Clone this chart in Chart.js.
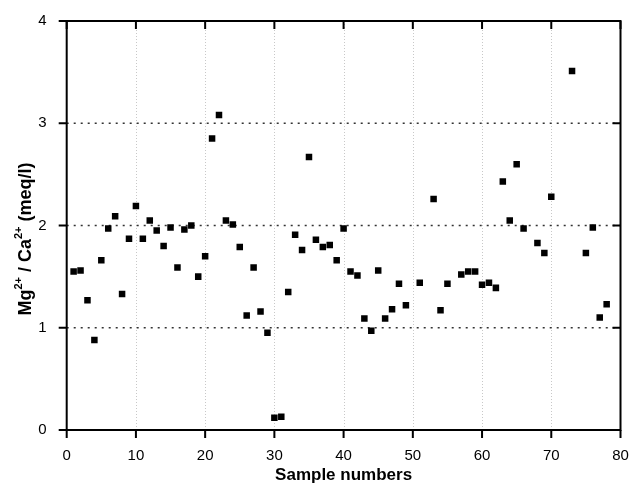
<!DOCTYPE html>
<html>
<head>
<meta charset="utf-8">
<title>Mg/Ca ratio by sample</title>
<script src="https://cdn.jsdelivr.net/npm/chart.js@4/dist/chart.umd.min.js"></script>
<style>
    html, body { margin: 0; padding: 0; background: #fff; }
    canvas { display: block; }
</style>
</head>
<body>
<canvas id="ratioChart" width="640" height="486"></canvas>
<script>
// Sample numbers (x) and Mg2+/Ca2+ ratios (meq/l)
const sampleNumbers = [
    1, 2, 3, 4, 5, 6, 7, 8, 9, 10,
    11, 12, 13, 14, 15, 16, 17, 18, 19, 20,
    21, 22, 23, 24, 25, 26, 27, 28, 29, 30,
    31, 32, 33, 34, 35, 36, 37, 38, 39, 40,
    41, 42, 43, 44, 45, 46, 47, 48, 49, 51,
    53, 54, 55, 57, 58, 59, 60, 61, 62, 63,
    64, 65, 66, 68, 69, 70, 73, 75, 76, 77, 78
];
const mgCaRatios = [
    1.55, 1.56, 1.27, 0.88, 1.66, 1.97, 2.09, 1.33, 1.87, 2.19,
    1.87, 2.05, 1.95, 1.80, 1.98, 1.59, 1.96, 2.00, 1.50, 1.70,
    2.85, 3.08, 2.05, 2.01, 1.79, 1.12, 1.59, 1.16, 0.95, 0.12,
    0.13, 1.35, 1.91, 1.76, 2.67, 1.86, 1.79, 1.81, 1.66, 1.97,
    1.55, 1.51, 1.09, 0.97, 1.56, 1.09, 1.18, 1.43, 1.22, 1.44,
    2.26, 1.17, 1.43, 1.52, 1.55, 1.55, 1.42, 1.44, 1.39, 2.43,
    2.05, 2.60, 1.97, 1.83, 1.73, 2.28, 3.51, 1.73, 1.98, 1.10, 1.23
];
const xTicks = [0, 10, 20, 30, 40, 50, 60, 70, 80];
const yTicks = [0, 1, 2, 3, 4];

const FONT = '"Liberation Sans", Arial, sans-serif';

/**
 * Frame, tick marks and dotted grid lines (drawn like the original plot)
 */
const framePlugin = {
    id: 'frame',
    beforeDatasetsDraw(chart) {
        const { ctx, chartArea: a, scales: { x, y } } = chart;
        ctx.save();
        // light vertical grid
        ctx.strokeStyle = '#c8c8c8';
        ctx.lineWidth = 1;
        ctx.setLineDash([1, 2]);
        xTicks.slice(1, -1).forEach(v => {
            const px = Math.round(x.getPixelForValue(v)) + 0.5;
            ctx.beginPath();
            ctx.moveTo(px, a.top);
            ctx.lineTo(px, a.bottom);
            ctx.stroke();
        });
        // dark horizontal grid
        ctx.strokeStyle = '#333';
        ctx.lineWidth = 1.5;
        ctx.setLineDash([2, 5]);
        yTicks.slice(1, -1).forEach(v => {
            const py = y.getPixelForValue(v);
            ctx.beginPath();
            ctx.moveTo(a.left, py);
            ctx.lineTo(a.right, py);
            ctx.stroke();
        });
        ctx.restore();
    },
    afterDatasetsDraw(chart) {
        const { ctx, chartArea: a, scales: { x, y } } = chart;
        const len = 8;
        ctx.save();
        ctx.strokeStyle = '#000';
        ctx.lineWidth = 2;
        ctx.setLineDash([]);
        ctx.strokeRect(a.left, a.top, a.right - a.left, a.bottom - a.top);
        ctx.beginPath();
        xTicks.forEach(v => {
            const px = x.getPixelForValue(v);
            ctx.moveTo(px, a.bottom);
            ctx.lineTo(px, a.bottom + len);
            ctx.moveTo(px, a.top);
            ctx.lineTo(px, a.top + len);
        });
        yTicks.forEach(v => {
            const py = y.getPixelForValue(v);
            ctx.moveTo(a.left - len, py);
            ctx.lineTo(a.left, py);
            ctx.moveTo(a.right - len, py);
            ctx.lineTo(a.right, py);
        });
        ctx.stroke();
        ctx.restore();
    },
    afterDraw(chart) {
        // y axis title with real superscripts
        const { ctx } = chart;
        const parts = [
            ['Mg', false], ['2+', true], [' / Ca', false], ['2+', true], [' (meq/l)', false]
        ];
        const big = 'bold 18px ' + FONT;
        const small = 'bold 11px ' + FONT;
        ctx.save();
        let total = 0;
        parts.forEach(p => {
            ctx.font = p[1] ? small : big;
            total += ctx.measureText(p[0]).width;
        });
        ctx.translate(26, 239);
        ctx.rotate(-Math.PI / 2);
        ctx.fillStyle = '#000';
        ctx.textBaseline = 'middle';
        let pos = -total / 2;
        parts.forEach(p => {
            ctx.font = p[1] ? small : big;
            ctx.fillText(p[0], pos, p[1] ? -7 : 0);
            pos += ctx.measureText(p[0]).width;
        });
        ctx.restore();
    }
};

const points = sampleNumbers.map((n, i) => ({ x: n, y: mgCaRatios[i] }));

new Chart(document.getElementById('ratioChart').getContext('2d'), {
    type: 'scatter',
    data: {
        datasets: [{
            data: points,
            pointStyle: 'rect',
            pointRadius: 4.6,
            backgroundColor: '#000',
            borderColor: '#000',
            borderWidth: 0
        }]
    },
    options: {
        responsive: false,
        animation: false,
        layout: { padding: { top: 19, right: 19.5, left: 0, bottom: 0 } },
        plugins: {
            legend: { display: false },
            tooltip: { enabled: false }
        },
        scales: {
            x: {
                type: 'linear',
                min: 0,
                max: 80,
                afterBuildTicks: s => { s.ticks = xTicks.map(v => ({ value: v })); },
                ticks: { padding: 9, color: '#000', font: { family: FONT, size: 15 } },
                grid: { display: false },
                border: { display: false },
                title: {
                    display: true,
                    text: 'Sample numbers',
                    color: '#000',
                    font: { family: FONT, size: 17, weight: 'bold' },
                    padding: { top: 0, bottom: 0 }
                },
                afterFit: s => { s.height = 56; }
            },
            y: {
                min: 0,
                max: 4,
                afterBuildTicks: s => { s.ticks = yTicks.map(v => ({ value: v })); },
                ticks: { padding: 12, color: '#000', font: { family: FONT, size: 15 } },
                grid: { display: false },
                border: { display: false },
                afterFit: s => { s.width = 66.7; }
            }
        }
    },
    plugins: [framePlugin]
});
</script>
</body>
</html>
